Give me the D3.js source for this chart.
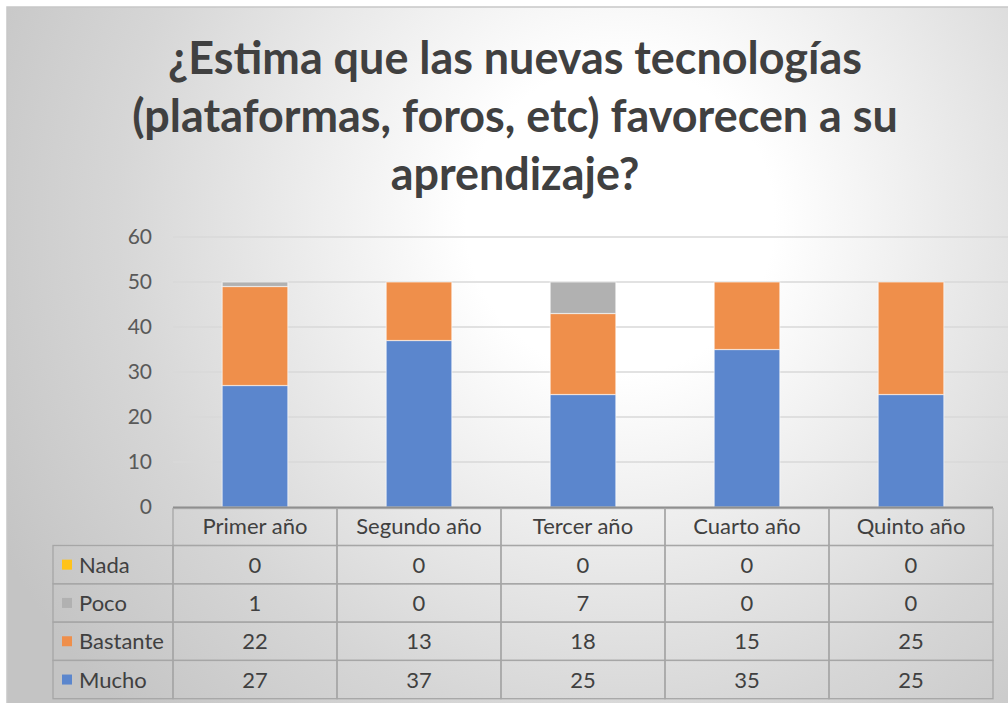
<!doctype html>
<html>
<head>
	<meta charset="utf-8">
	<script src="https://d3js.org/d3.v7.min.js"></script>
	<style>
		body { margin: 0; background: #fff; }
		text { font-family: Lato, "Open Sans", sans-serif; }
	</style>
</head>
<body>
<script>
	// data
	var categories = ["Primer año", "Segundo año", "Tercer año", "Cuarto año", "Quinto año"];
	var seriesNames = ["Nada", "Poco", "Bastante", "Mucho"];   // table order (top to bottom)
	var nada     = [0, 0, 0, 0, 0];
	var poco     = [1, 0, 7, 0, 0];
	var bastante = [22, 13, 18, 15, 25];
	var mucho    = [27, 37, 25, 35, 25];
	var yTicks   = [0, 10, 20, 30, 40, 50, 60];
	var titleLines = ["¿Estima que las nuevas tecnologías", "(plataformas, foros, etc) favorecen a su", "aprendizaje?"];

	var colors = { "Mucho": "#5b86cd", "Bastante": "#ef8f4b", "Poco": "#b1b1b1", "Nada": "#ffc31a" };
	var values = { "Nada": nada, "Poco": poco, "Bastante": bastante, "Mucho": mucho };

	var W = 1008, H = 703;
	var svg = d3.select("body").append("svg").attr("width", W).attr("height", H);

	// background gradient
	var defs = svg.append("defs");
	var grad = defs.append("radialGradient").attr("id", "bg")
		.attr("gradientUnits", "userSpaceOnUse")
		.attr("cx", 620).attr("cy", 220).attr("r", 700);
	grad.append("stop").attr("offset", "0").attr("stop-color", "#ffffff");
	grad.append("stop").attr("offset", "0.22").attr("stop-color", "#ffffff");
	grad.append("stop").attr("offset", "0.72").attr("stop-color", "#d6d6d6");
	grad.append("stop").attr("offset", "1").attr("stop-color", "#c4c4c4");

	svg.append("rect").attr("x", 7).attr("y", 7).attr("width", W).attr("height", H)
		.attr("fill", "url(#bg)").attr("stroke", "#c8c8c8").attr("stroke-width", 1.5);

	// title (font size fitted so the first line is as wide as in the original)
	var title = svg.append("g").selectAll("text").data(titleLines).enter().append("text")
		.attr("x", 515).attr("y", (d, i) => 74 + i * 58)
		.attr("text-anchor", "middle")
		.style("font-size", "40px").style("font-weight", "bold")
		.style("fill", "#404040")
		.text(d => d);
	var w0 = title.nodes()[0].getComputedTextLength();
	title.style("font-size", (40 * 694 / w0) + "px");

	// scales
	var x = d3.scaleBand().domain(categories).range([173, 993]).paddingInner(0.6).paddingOuter(0.3);
	var xCol = d3.scaleBand().domain(categories).range([173, 993]);
	var y = d3.scaleLinear().domain([0, 60]).range([507, 237]);

	// gridlines
	svg.append("g").selectAll("line").data(yTicks.slice(1)).enter().append("line")
		.attr("x1", 173).attr("x2", W).attr("y1", d => y(d)).attr("y2", d => y(d))
		.attr("stroke", "#d9d9d9").attr("stroke-width", 1.3);

	// y axis labels
	var yAxis = svg.append("g").attr("transform", "translate(173,0)")
		.call(d3.axisLeft(y).tickValues(yTicks).tickSize(0).tickPadding(21));
	yAxis.select(".domain").remove();
	yAxis.selectAll("text").style("font-size", "21px").style("fill", "#595959")
		.style("font-family", "Lato, 'Open Sans', sans-serif");

	// stacked bars
	var rows = categories.map((c, i) => ({ cat: c, Mucho: mucho[i], Bastante: bastante[i], Poco: poco[i], Nada: nada[i] }));
	var stack = d3.stack().keys(["Mucho", "Bastante", "Poco", "Nada"])(rows);

	svg.append("g").selectAll("g").data(stack).enter().append("g")
		.attr("fill", d => colors[d.key])
		.selectAll("rect").data(d => d).enter().append("rect")
		.attr("x", d => x(d.data.cat))
		.attr("width", x.bandwidth())
		.attr("y", d => y(d[1]))
		.attr("height", d => y(d[0]) - y(d[1]))
		.attr("stroke", "#ffffff").attr("stroke-opacity", 0.55).attr("stroke-width", 1.2);

	// axis line
	svg.append("line").attr("x1", 173).attr("x2", 993).attr("y1", 507.5).attr("y2", 507.5)
		.attr("stroke", "#8c8c8c").attr("stroke-width", 2);

	// data table
	var rowTop = 507, headH = 38.5, rowH = 38.3, tableLeft = 53;
	var table = svg.append("g");
	var gridColor = "#a6a6a6";

	// header cells
	categories.forEach(function(c) {
		table.append("rect").attr("x", xCol(c)).attr("y", rowTop + 1.5)
			.attr("width", xCol.bandwidth()).attr("height", headH - 1.5)
			.attr("fill", "none").attr("stroke", gridColor).attr("stroke-width", 1.3);
		table.append("text").attr("x", xCol(c) + xCol.bandwidth() / 2).attr("y", rowTop + headH / 2 + 8)
			.attr("text-anchor", "middle").style("font-size", "22px").style("fill", "#404040").text(c);
	});

	seriesNames.forEach(function(s, r) {
		var ty = rowTop + headH + r * rowH;
		table.append("rect").attr("x", tableLeft).attr("y", ty)
			.attr("width", 173 - tableLeft).attr("height", rowH)
			.attr("fill", "none").attr("stroke", gridColor).attr("stroke-width", 1.3);
		table.append("rect").attr("x", 62).attr("y", ty + rowH / 2 - 5)
			.attr("width", 10).attr("height", 10).attr("fill", colors[s]);
		table.append("text").attr("x", 79).attr("y", ty + rowH / 2 + 8)
			.style("font-size", "22px").style("fill", "#404040").text(s);
		categories.forEach(function(c, i) {
			table.append("rect").attr("x", xCol(c)).attr("y", ty)
				.attr("width", xCol.bandwidth()).attr("height", rowH)
				.attr("fill", "none").attr("stroke", gridColor).attr("stroke-width", 1.3);
			table.append("text").attr("x", xCol(c) + xCol.bandwidth() / 2).attr("y", ty + rowH / 2 + 8)
				.attr("text-anchor", "middle").style("font-size", "22px").style("fill", "#404040")
				.text(values[s][i]);
		});
	});
</script>
</body>
</html>
